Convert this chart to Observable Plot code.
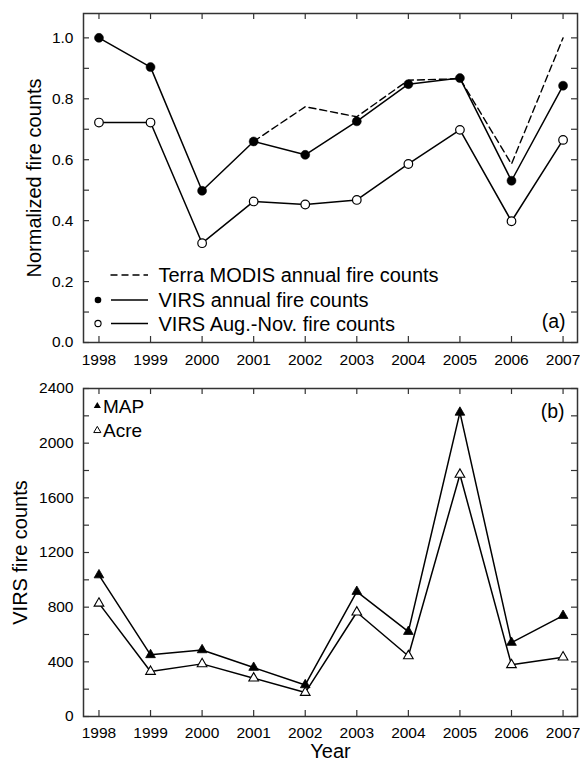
<!DOCTYPE html>
<html>
<head>
<meta charset="utf-8">
<script src="https://cdn.jsdelivr.net/npm/d3@7"></script>
<script src="https://cdn.jsdelivr.net/npm/@observablehq/plot@0.6"></script>
<style>
  body { margin: 0; background: #fff; }
  #wrap { position: relative; width: 580px; height: 767px; font-family: "Liberation Sans", Arial, sans-serif; }
  #top, #bottom { position: absolute; left: 0; }
  #top { top: 0; }
  #bottom { top: 370px; }
  #legend { position: absolute; left: 0; top: 0; pointer-events: none; }
</style>
</head>
<body>
<div id="wrap">
  <div id="top"></div>
  <div id="bottom"></div>
  <svg id="legend" width="580" height="767"></svg>
</div>
<script>
// ---------- data ----------
const years = [1998, 1999, 2000, 2001, 2002, 2003, 2004, 2005, 2006, 2007];
const virsAnnual = [1.0, 0.904, 0.498, 0.66, 0.616, 0.726, 0.848, 0.868, 0.531, 0.843];
const virsAugNov = [0.722, 0.722, 0.326, 0.463, 0.453, 0.468, 0.586, 0.698, 0.398, 0.665];
const modisYears = [2001, 2002, 2003, 2004, 2005, 2006, 2007];
const modisAnnual = [0.66, 0.774, 0.741, 0.861, 0.866, 0.586, 1.0];
const mapCounts = [1035, 451, 487, 358, 231, 914, 621, 2225, 541, 738];
const acreCounts = [828, 329, 385, 280, 175, 763, 443, 1771, 378, 434];

const normTicks = [0, 0.2, 0.4, 0.6, 0.8, 1.0];
const normMinorTicks = [0, 0.1, 0.2, 0.3, 0.4, 0.5, 0.6, 0.7, 0.8, 0.9, 1.0];
const countTicks = [0, 400, 800, 1200, 1600, 2000, 2400];
const countMinorTicks = [0, 200, 400, 600, 800, 1000, 1200, 1400, 1600, 1800, 2000, 2200, 2400];

const topLegend = ["Terra MODIS annual fire counts", "VIRS annual fire counts", "VIRS Aug.-Nov. fire counts"];
const bottomLegend = ["MAP", "Acre"];

// ---------- tables ----------
const annual = years.map((y, i) => ({year: y, v: virsAnnual[i]}));
const augNov = years.map((y, i) => ({year: y, v: virsAugNov[i]}));
const modis = modisYears.map((y, i) => ({year: y, v: modisAnnual[i]}));
const mapT = years.map((y, i) => ({year: y, v: mapCounts[i]}));
const acreT = years.map((y, i) => ({year: y, v: acreCounts[i]}));

const FONT = "'Liberation Sans', Arial, Helvetica, sans-serif";
const xDomain = [1997.7, 2007.28];
const INK = "#000";
const FRAME = "#333";
const W = 580, ML = 83, MR = 3;
const innerW = W - ML - MR;
const TICK_PX = 6;

// inward frame ticks: rules whose length is converted from pixels to data units
function inwardTicks(xTicks, yTicks, yDomain, innerH) {
  const ky = (yDomain[1] - yDomain[0]) / innerH * TICK_PX;
  const kx = (xDomain[1] - xDomain[0]) / innerW * TICK_PX;
  const st = {stroke: FRAME, strokeWidth: 1.2};
  return [
    Plot.ruleX(xTicks, {x: d => d, y1: yDomain[0], y2: yDomain[0] + ky, ...st}),
    Plot.ruleX(xTicks, {x: d => d, y1: yDomain[1] - ky, y2: yDomain[1], ...st}),
    Plot.ruleY(yTicks, {y: d => d, x1: xDomain[0], x2: xDomain[0] + kx, ...st}),
    Plot.ruleY(yTicks, {y: d => d, x1: xDomain[1] - kx, x2: xDomain[1], ...st})
  ];
}

const topH = 370, topMT = 13, topMB = 28;
const topY = [0, 1.08];
const topPlot = Plot.plot({
  width: W, height: topH,
  marginLeft: ML, marginRight: MR, marginTop: topMT, marginBottom: topMB,
  style: {fontFamily: FONT, fontSize: "15.5px", color: INK, background: "transparent", overflow: "visible"},
  x: {domain: xDomain},
  y: {domain: topY},
  marks: [
    ...inwardTicks(years, normMinorTicks, topY, topH - topMT - topMB),
    Plot.axisY({anchor: "left", ticks: normTicks, tickSize: 0, tickPadding: 10, tickFormat: d3.format(".1f"), label: null, fontSize: 15.5}),
    Plot.axisX({anchor: "bottom", ticks: years, tickSize: 0, tickPadding: 11, tickFormat: d => String(d), label: null, fontSize: 15.5}),
    Plot.frame({stroke: FRAME, strokeWidth: 1.5}),
    Plot.line(modis, {x: "year", y: "v", stroke: INK, strokeWidth: 1.4, strokeDasharray: "7,4"}),
    Plot.line(annual, {x: "year", y: "v", stroke: INK, strokeWidth: 1.5}),
    Plot.line(augNov, {x: "year", y: "v", stroke: INK, strokeWidth: 1.5}),
    Plot.dot(annual, {x: "year", y: "v", r: 4.5, fill: INK, stroke: INK, strokeWidth: 0.5}),
    Plot.dot(augNov, {x: "year", y: "v", r: 4.3, fill: "#fff", stroke: INK, strokeWidth: 1.2}),
    Plot.text(["Normalized fire counts"], {frameAnchor: "left", dx: -48.5, rotate: -90, textAnchor: "middle", lineAnchor: "middle", fontSize: 20, fill: INK}),
    Plot.text(["(a)"], {frameAnchor: "bottom-right", dx: -12, dy: -20.6, textAnchor: "end", lineAnchor: "middle", fontSize: 19.5, fill: INK})
  ]
});
document.getElementById("top").appendChild(topPlot);

const botH = 397, botMT = 18, botMB = 51;
const botY = [0, 2400];
const bottomPlot = Plot.plot({
  width: W, height: botH,
  marginLeft: ML, marginRight: MR, marginTop: botMT, marginBottom: botMB,
  style: {fontFamily: FONT, fontSize: "15.5px", color: INK, background: "transparent", overflow: "visible"},
  x: {domain: xDomain},
  y: {domain: botY},
  marks: [
    ...inwardTicks(years, countMinorTicks, botY, botH - botMT - botMB),
    Plot.axisY({anchor: "left", ticks: countTicks, tickSize: 0, tickPadding: 10, tickFormat: d => String(d), label: null, fontSize: 15.5}),
    Plot.axisX({anchor: "bottom", ticks: years, tickSize: 0, tickPadding: 10, tickFormat: d => String(d), label: null, fontSize: 15.5}),
    Plot.frame({stroke: FRAME, strokeWidth: 1.5}),
    Plot.line(mapT, {x: "year", y: "v", stroke: INK, strokeWidth: 1.5}),
    Plot.line(acreT, {x: "year", y: "v", stroke: INK, strokeWidth: 1.5}),
    Plot.dot(mapT, {x: "year", y: "v", symbol: "triangle", r: 3.6, fill: INK, stroke: INK, strokeWidth: 0.8}),
    Plot.dot(acreT, {x: "year", y: "v", symbol: "triangle", r: 3.6, fill: "#fff", stroke: INK, strokeWidth: 1.1}),
    Plot.text(["VIRS fire counts"], {frameAnchor: "left", dx: -63, rotate: -90, textAnchor: "middle", lineAnchor: "middle", fontSize: 20, fill: INK}),
    Plot.text(["Year"], {frameAnchor: "bottom", dy: 35, textAnchor: "middle", lineAnchor: "middle", fontSize: 20, fill: INK}),
    Plot.text(["(b)"], {frameAnchor: "top-right", dx: -13, dy: 23.4, textAnchor: "end", lineAnchor: "middle", fontSize: 19.5, fill: INK})
  ]
});
document.getElementById("bottom").appendChild(bottomPlot);

// ---------- legends (overlay) ----------
const lg = d3.select("#legend");
const topRows = [275, 300, 323.5];
lg.append("line").attr("x1", 110.5).attr("x2", 148).attr("y1", topRows[0]).attr("y2", topRows[0])
  .attr("stroke", INK).attr("stroke-width", 1.4).attr("stroke-dasharray", "7,4");
lg.append("circle").attr("cx", 98).attr("cy", topRows[1]).attr("r", 3.3).attr("fill", INK);
lg.append("line").attr("x1", 111).attr("x2", 148).attr("y1", topRows[1]).attr("y2", topRows[1])
  .attr("stroke", INK).attr("stroke-width", 1.5);
lg.append("circle").attr("cx", 98).attr("cy", topRows[2]).attr("r", 3.1).attr("fill", "#fff").attr("stroke", INK).attr("stroke-width", 1.1);
lg.append("line").attr("x1", 111).attr("x2", 148).attr("y1", topRows[2]).attr("y2", topRows[2])
  .attr("stroke", INK).attr("stroke-width", 1.5);
topLegend.forEach((t, i) => {
  lg.append("text").attr("x", 158.5).attr("y", topRows[i]).attr("dy", "0.35em")
    .attr("font-family", FONT).attr("font-size", 20).attr("fill", INK).text(t);
});

const botRows = [406, 430.5];
const tri = d3.symbol(d3.symbolTriangle, 22);
lg.append("path").attr("d", tri()).attr("transform", `translate(97.3,${botRows[0]})`).attr("fill", INK);
lg.append("path").attr("d", tri()).attr("transform", `translate(97.3,${botRows[1]})`).attr("fill", "#fff").attr("stroke", INK).attr("stroke-width", 1);
bottomLegend.forEach((t, i) => {
  lg.append("text").attr("x", 103).attr("y", botRows[i]).attr("dy", "0.35em")
    .attr("font-family", FONT).attr("font-size", 19).attr("fill", INK).text(t);
});
</script>
</body>
</html>
